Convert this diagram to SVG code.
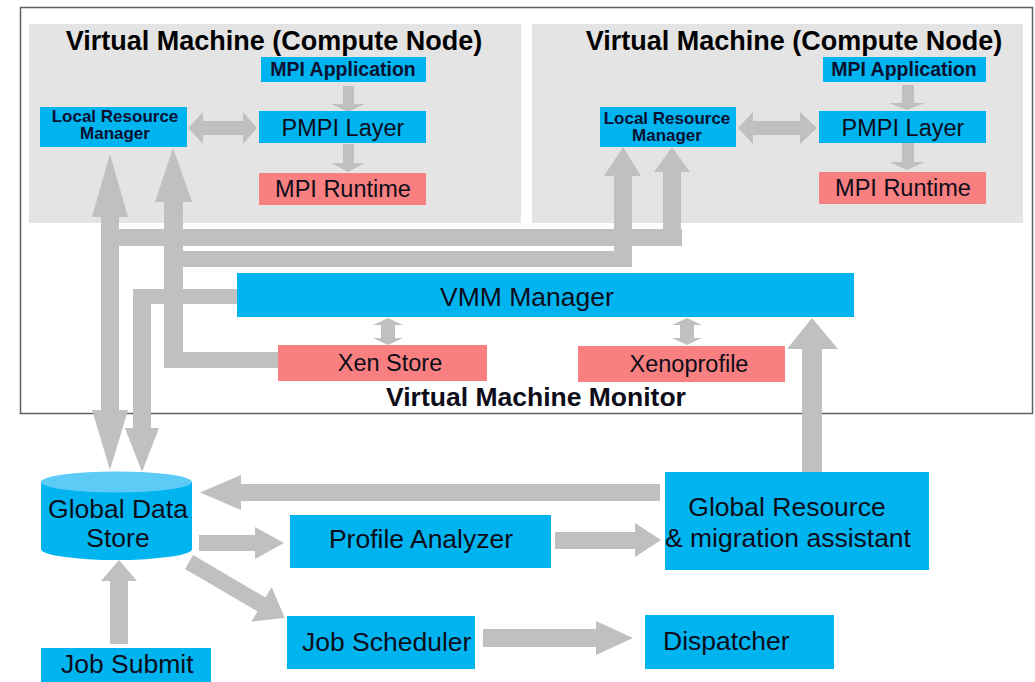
<svg xmlns="http://www.w3.org/2000/svg" width="1035" height="682" viewBox="0 0 1035 682">
<defs>
<style>
text{font-family:"Liberation Sans",Arial,sans-serif;fill:#0d0d1a;}
.b{font-weight:bold;}
.blue{fill:#00B4F0;}
.pink{fill:#F88080;}
.gray{fill:#E4E4E4;}
.arr{fill:#C0C0C0;}
.t26{font-size:26.5px;}
.t23{font-size:23.5px;}
.title{font-size:27px;font-weight:bold;fill:#000;}
.lrm{font-size:17px;font-weight:bold;fill:#0a1030;}
.app{font-size:19.5px;font-weight:bold;fill:#0a1030;}
</style>
</defs>
<rect width="1035" height="682" fill="#fff"/>

<g id="vmm-container">
<rect x="20.5" y="7.5" width="1012" height="406" fill="#fff" stroke="#606060" stroke-width="1.5"/>
<text x="536" y="406" text-anchor="middle" class="b" font-size="26.5px" fill="#000">Virtual Machine Monitor</text>
</g>

<g id="vm-left">
<rect class="gray" x="29" y="24" width="492" height="199"/>
<text class="title" x="274" y="50" text-anchor="middle">Virtual Machine (Compute Node)</text>
</g>
<g id="vm-right">
<rect class="gray" x="532" y="24" width="491" height="199"/>
<text class="title" x="794" y="50" text-anchor="middle">Virtual Machine (Compute Node)</text>
</g>

<g id="connectors">
<!-- inside left VM -->
<rect class="arr" x="343" y="86" width="11" height="19"/>
<polygon class="arr" points="331,104 365,104 348,112"/>
<rect class="arr" x="343" y="144" width="11" height="20"/>
<polygon class="arr" points="331,163 365,163 348,172"/>
<polygon class="arr" points="188,128 203,112 203,121 243,121 243,112 257,128 243,144 243,135 203,135 203,144"/>
<!-- inside right VM -->
<rect class="arr" x="902" y="85" width="12" height="19"/>
<polygon class="arr" points="889,103 925,103 907,110"/>
<rect class="arr" x="902" y="143" width="12" height="20"/>
<polygon class="arr" points="889,162 925,162 907,170"/>
<polygon class="arr" points="738,128 753,112 753,121 800,121 800,112 817,128 800,144 800,135 753,135 753,144"/>

<!-- leftmost double arrow: LRM(left) <-> Global Data Store, joined to right LRM via upper bar -->
<rect class="arr" x="101" y="216" width="18" height="195"/>
<polygon class="arr" points="92,217 128,217 110,154"/>
<polygon class="arr" points="92,410 128,410 110,470"/>
<rect class="arr" x="101" y="229" width="581" height="17"/>
<rect class="arr" x="663" y="171" width="18" height="75"/>
<polygon class="arr" points="654,172 690,172 672,147"/>

<!-- second arrow: LRM(left) <- Xen Store, joined to right LRM via lower bar -->
<rect class="arr" x="164" y="201" width="19" height="167"/>
<polygon class="arr" points="155,202 192,202 173,148"/>
<rect class="arr" x="164" y="352" width="114" height="16"/>
<rect class="arr" x="164" y="251" width="468" height="16"/>
<rect class="arr" x="614" y="175" width="18" height="92"/>
<polygon class="arr" points="604,176 641,176 623,147"/>

<!-- VMM Manager -> Global Data Store -->
<rect class="arr" x="133" y="289" width="104" height="15"/>
<rect class="arr" x="133" y="289" width="18" height="140"/>
<polygon class="arr" points="125,428 159,428 142,472"/>

<!-- VMM <-> Xen Store / Xenoprofile -->
<polygon class="arr" points="388,318 403,325 395,325 395,338 403,338 388,345 373,338 381,338 381,325 373,325"/>
<polygon class="arr" points="687,318 702,325 694,325 694,338 702,338 687,345 672,338 680,338 680,325 672,325"/>

<!-- Global Resource -> VMM Manager -->
<rect class="arr" x="802" y="348" width="20" height="125"/>
<polygon class="arr" points="787,349 838,349 812,318"/>

<!-- Global Resource -> Global Data Store -->
<polygon class="arr" points="200,492.5 241,475 241,484 660,484 660,501 241,501 241,510"/>
<!-- Global Data Store -> Profile Analyzer -->
<polygon class="arr" points="199,535 255,535 255,527 284,543 255,559 255,551 199,551"/>
<!-- Profile Analyzer -> Global Resource -->
<polygon class="arr" points="555,532 635,532 635,523 661,540 635,557 635,549 555,549"/>
<!-- Global Data Store -> Job Scheduler -->
<polygon class="arr" transform="translate(189,562) rotate(30.3)" points="0,-8 84,-8 84,-20 111,0 84,20 84,8 0,8"/>
<!-- Job Submit -> Global Data Store -->
<polygon class="arr" points="110,644 110,581 101,581 119,560 137,581 128,581 128,644"/>
<!-- Job Scheduler -> Dispatcher -->
<polygon class="arr" points="483,629 596,629 596,621 633,638 596,655 596,647 483,647"/>
</g>

<g id="mpi-app-left">
<rect class="blue" x="261" y="57" width="165" height="25"/>
<text class="app" x="343" y="76" text-anchor="middle">MPI Application</text>
</g>
<g id="pmpi-left">
<rect class="blue" x="259" y="111" width="167" height="32"/>
<text class="t23" x="343" y="136" text-anchor="middle">PMPI Layer</text>
</g>
<g id="runtime-left">
<rect class="pink" x="259" y="173" width="167" height="32"/>
<text class="t23" x="343" y="197" text-anchor="middle">MPI Runtime</text>
</g>
<g id="lrm-left">
<rect class="blue" x="40" y="107" width="147" height="40"/>
<text class="lrm" x="115" y="122" text-anchor="middle">Local Resource</text>
<text class="lrm" x="115" y="139" text-anchor="middle">Manager</text>
</g>

<g id="mpi-app-right">
<rect class="blue" x="823" y="57" width="163" height="25"/>
<text class="app" x="904" y="76" text-anchor="middle">MPI Application</text>
</g>
<g id="pmpi-right">
<rect class="blue" x="819" y="111" width="167" height="32"/>
<text class="t23" x="903" y="136" text-anchor="middle">PMPI Layer</text>
</g>
<g id="runtime-right">
<rect class="pink" x="819" y="172" width="167" height="32"/>
<text class="t23" x="903" y="196" text-anchor="middle">MPI Runtime</text>
</g>
<g id="lrm-right">
<rect class="blue" x="600" y="107" width="136" height="40"/>
<text class="lrm" x="667" y="124" text-anchor="middle">Local Resource</text>
<text class="lrm" x="667" y="141" text-anchor="middle">Manager</text>
</g>

<g id="vmm-manager">
<rect class="blue" x="237" y="273" width="617" height="44"/>
<text class="t26" x="527" y="306" text-anchor="middle" font-size="25px">VMM Manager</text>
</g>
<g id="xen-store">
<rect class="pink" x="278" y="345" width="209" height="36"/>
<text class="t23" x="390" y="371" text-anchor="middle">Xen Store</text>
</g>
<g id="xenoprofile">
<rect class="pink" x="578" y="346" width="207" height="36"/>
<text class="t23" x="689" y="372" text-anchor="middle">Xenoprofile</text>
</g>

<g id="global-data-store">
<path class="blue" d="M41,482 V549 A75.5,11 0 0 0 192,549 V482 Z"/>
<ellipse cx="116.5" cy="482" rx="75.5" ry="10.5" fill="#5CCBF5"/>
<text class="t26" x="118" y="518" text-anchor="middle">Global Data</text>
<text class="t26" x="118" y="547" text-anchor="middle">Store</text>
</g>
<g id="profile-analyzer">
<rect class="blue" x="290" y="515" width="261" height="53"/>
<text class="t26" x="421" y="548" text-anchor="middle">Profile Analyzer</text>
</g>
<g id="global-resource">
<rect class="blue" x="665" y="472" width="264" height="98"/>
<text class="t26" x="787" y="516" text-anchor="middle">Global Resource</text>
<text class="t26" x="665" y="547">&amp; migration assistant</text>
</g>
<g id="job-scheduler">
<rect class="blue" x="287" y="616" width="188" height="53"/>
<text class="t26" x="302" y="651">Job Scheduler</text>
</g>
<g id="dispatcher">
<rect class="blue" x="645" y="615" width="189" height="54"/>
<text class="t26" x="663" y="650">Dispatcher</text>
</g>
<g id="job-submit">
<rect class="blue" x="41" y="648" width="170" height="34"/>
<text class="t26" x="61" y="673">Job Submit</text>
</g>
</svg>
